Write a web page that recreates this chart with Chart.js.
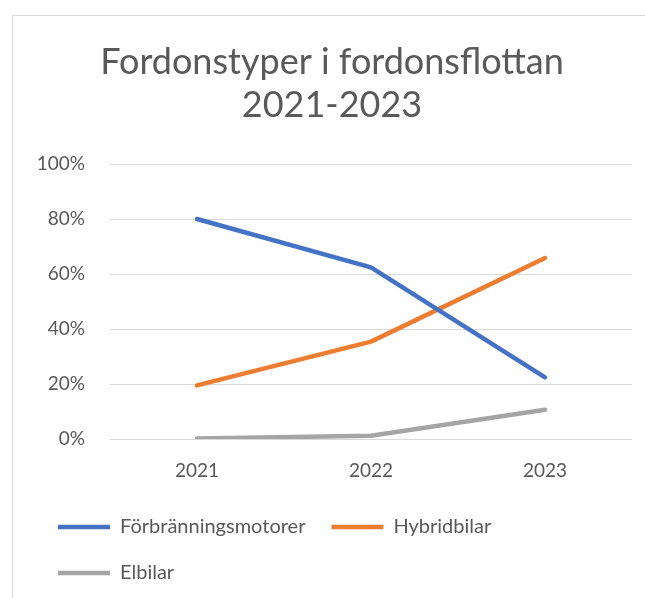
<!DOCTYPE html>
<html><head><meta charset="utf-8">
<script src="https://cdn.jsdelivr.net/npm/chart.js@4.4.0/dist/chart.umd.min.js"></script>
<style>
html,body{margin:0;padding:0;background:#fff;width:645px;height:598px;overflow:hidden}
#frame{position:absolute;left:12px;top:15px;width:700px;height:700px;border-left:1px solid #d9d9d9;border-top:1px solid #d9d9d9;box-sizing:border-box}
#c{position:absolute;left:0;top:0}
</style></head><body>
<div id="frame"></div>
<canvas id="c" width="645" height="598"></canvas>
<script>
const categories = ['2021', '2022', '2023'];
const seriesNames = ['Förbränningsmotorer', 'Hybridbilar', 'Elbilar'];
const forbranningsmotorer = [80, 62.4, 22.4];
const hybridbilar = [19.5, 35.4, 65.8];
const elbilar = [0.2, 1.2, 10.6];
const yTickValues = [0, 20, 40, 60, 80, 100];
const yTickLabels = ['0%', '20%', '40%', '60%', '80%', '100%'];
const titleLines = ['Fordonstyper i fordonsflottan', '2021-2023'];
const seriesColors = ['#4472C4', '#ED7D31', '#A5A5A5'];

const FONT = 'Lato';
const TEXT = '#595959';

function ds(label, data, color) {
  return {
    label, data,
    borderColor: color, backgroundColor: color,
    borderWidth: 4.5, pointRadius: 0, pointHoverRadius: 0,
    tension: 0, fill: false,
    borderCapStyle: 'round', borderJoinStyle: 'round'
  };
}

new Chart(document.getElementById('c'), {
  type: 'line',
  data: {
    labels: categories,
    datasets: [
      ds(seriesNames[0], forbranningsmotorer, seriesColors[0]),
      ds(seriesNames[1], hybridbilar, seriesColors[1]),
      ds(seriesNames[2], elbilar, seriesColors[2])
    ]
  },
  options: {
    responsive: false,
    animation: false,
    devicePixelRatio: 1,
    layout: { padding: { left: 32, right: 13, top: 16, bottom: 5 } },
    plugins: {
      tooltip: { enabled: false },
      title: {
        display: true,
        text: titleLines,
        color: TEXT,
        font: { family: FONT, size: 36, weight: 'normal', lineHeight: 43 / 36 },
        padding: { top: 25, bottom: 37 }
      },
      legend: {
        position: 'bottom',
        align: 'start',
        labels: {
          usePointStyle: true,
          pointStyle: 'line',
          pointStyleWidth: 52,
          color: TEXT,
          font: { family: FONT, size: 20 },
          padding: 26
        }
      }
    },
    scales: {
      x: {
        offset: true,
        grid: { display: false },
        border: { display: false },
        ticks: { color: TEXT, font: { family: FONT, size: 19 }, padding: 12 },
        afterFit(scale) { scale.height = 52; }
      },
      y: {
        min: 0, max: 100,
        grid: { color: '#d9d9d9', lineWidth: 1, drawTicks: false },
        border: { display: false },
        ticks: {
          stepSize: 20,
          color: TEXT,
          font: { family: FONT, size: 19 },
          padding: 25,
          callback: (v) => yTickLabels[yTickValues.indexOf(v)]
        },
        afterFit(scale) { scale.width = 78; }
      }
    }
  }
});
</script>
</body></html>
